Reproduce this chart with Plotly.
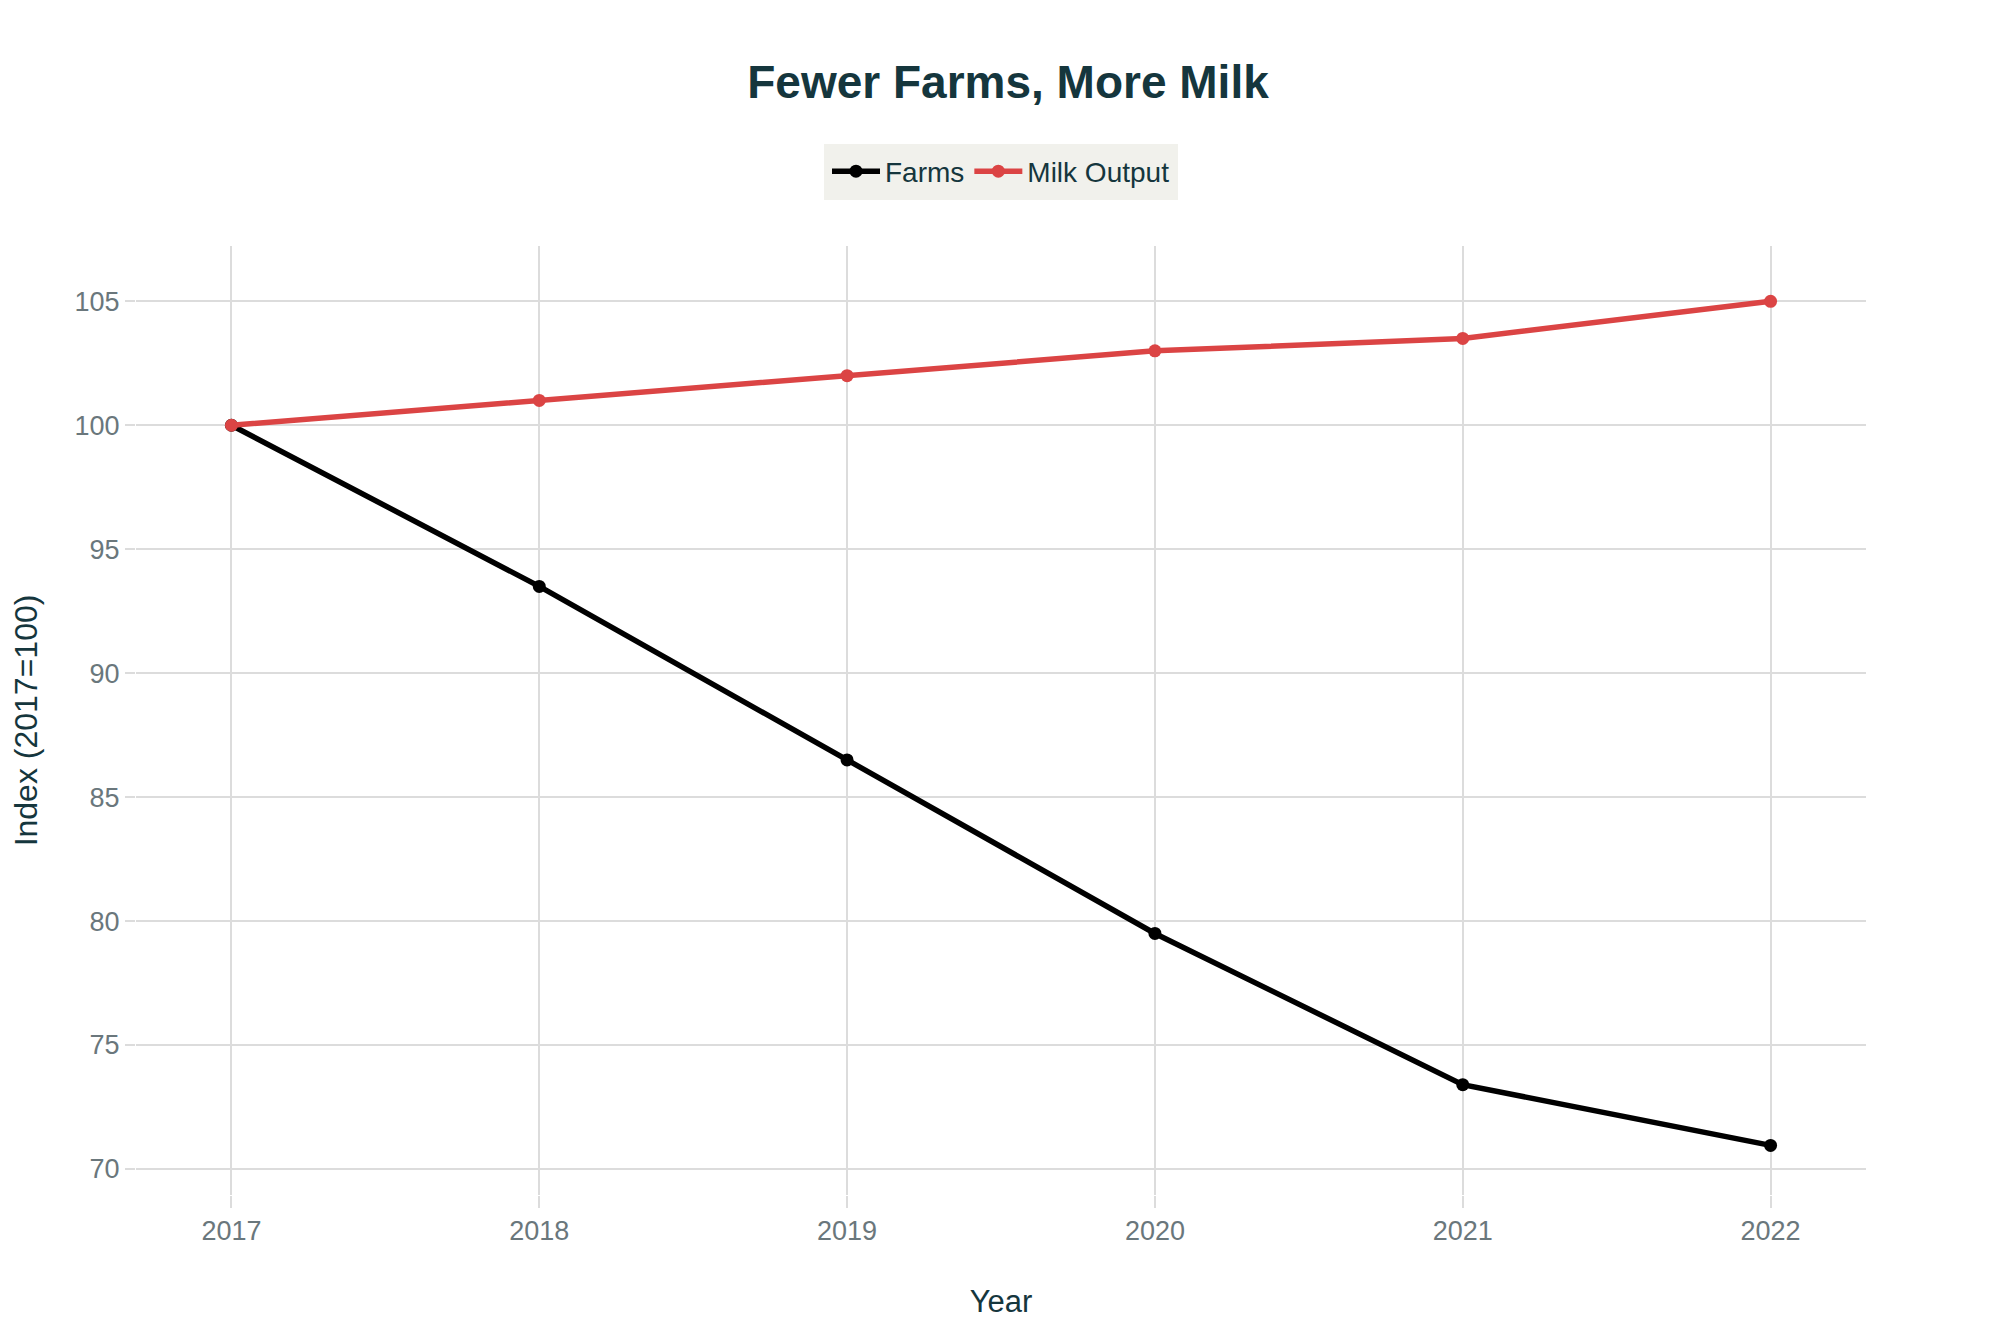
import plotly.graph_objects as go

years = [2017, 2018, 2019, 2020, 2021, 2022]
farms = [100, 93.5, 86.5, 79.5, 73.4, 70.95]
milk_output = [100, 101, 102, 103, 103.5, 105]
y_ticks = [70, 75, 80, 85, 90, 95, 100, 105]

FONT = "Liberation Sans"
DARK = "#15363d"
TICK = "#6a777c"
GRID = "#dcdcdc"
LEGEND_BG = "#f1f1ec"

fig = go.Figure()
fig.add_trace(go.Scatter(
    x=years, y=farms, name="Farms", mode="lines+markers",
    line=dict(color="#000000", width=5.5),
    marker=dict(color="#000000", size=13),
))
fig.add_trace(go.Scatter(
    x=years, y=milk_output, name="Milk Output", mode="lines+markers",
    line=dict(color="#db4444", width=5.5),
    marker=dict(color="#db4444", size=13),
))

fig.update_layout(
    width=2000, height=1333,
    paper_bgcolor="white", plot_bgcolor="white",
    margin=dict(l=125, r=142, t=238, b=146),
    font=dict(family=FONT, color=DARK),
    title=dict(
        text="<b>Fewer Farms, More Milk</b>",
        x=0.5, xanchor="center", y=1 - 74 / 1333, yanchor="middle",
        font=dict(family=FONT, size=46, color=DARK),
    ),
    legend=dict(
        orientation="h", x=0.5, xanchor="center", y=1.108, yanchor="top",
        bgcolor=LEGEND_BG, bordercolor=LEGEND_BG, borderwidth=3,
        itemwidth=48,
        font=dict(family=FONT, size=28, color=DARK),
    ),
    xaxis=dict(
        title=dict(text="Year", font=dict(family=FONT, size=31, color=DARK), standoff=44),
        range=[2016.69, 2022.31],
        tickvals=years, ticktext=[str(y) for y in years],
        showgrid=True, gridcolor=GRID, gridwidth=2,
        ticks="outside", ticklen=12, tickcolor=GRID, tickwidth=2,
        tickfont=dict(family=FONT, size=27, color=TICK),
        zeroline=False, showline=False,
    ),
    yaxis=dict(
        title=dict(text="Index (2017=100)", font=dict(family=FONT, size=32, color=DARK), standoff=32),
        range=[68.95, 107.23],
        tickvals=y_ticks,
        showgrid=True, gridcolor=GRID, gridwidth=2,
        ticks="outside", ticklen=10, tickcolor=GRID, tickwidth=2,
        tickfont=dict(family=FONT, size=27, color=TICK),
        zeroline=False, showline=False,
    ),
)

fig.write_html("out.html")
